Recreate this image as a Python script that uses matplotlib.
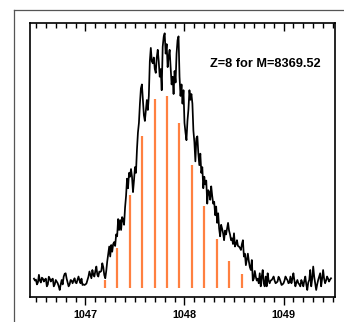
import numpy as np
import matplotlib
matplotlib.use('Agg')
from matplotlib import pyplot as plt
from matplotlib.ticker import MultipleLocator
from matplotlib.lines import Line2D

# measured spectrum, sampled every 0.01 m/z from 1046.48
mz_start = 1046.48
mz_step = 0.01
intensity = [
    5, 4, 4.5, 2, 3, 7, 4, 3, 5.5, 5,
    3.5, 4.5, 5, 1, 2, 6, 5, 3.5, 4.5, 5,
    1, 2, 4.3, 3.5, 2.6, 1, -0.9, 2, 4.3, 2,
    6, 7.5, 7.8, 5, 3, 1, 2, 4.3, 4, 2.6,
    4, 5.2, 3, 2.6, 4.5, 6.1, 4, 2.6, 5, 1.7,
    2, 1.7, 2, 2.5, 4.3, 6, 8.7, 7, 5.2, 9.5,
    7, 6.1, 9, 11.3, 7, 6.1, 8.7, 8.5, 9, 13,
    11, 6.9, 5.2, 9, 14, 18, 21.7, 16.5, 22.5, 19,
    23, 24, 22, 28, 27, 36, 30.3, 35.5, 30.3, 37,
    36, 33, 42, 48, 57, 52, 60, 58, 62, 58,
    50, 56, 63, 60, 72, 81, 86, 96, 104, 106,
    98, 90, 87, 92.7, 97.9, 92.7, 100, 118, 125, 118,
    117, 120, 114, 112, 120, 124, 118, 110, 114, 103,
    125.6, 130.8, 132.6, 122, 127, 115, 120.5, 124, 115, 106,
    110, 101, 113, 107, 122, 129, 131, 110, 100, 106,
    96, 103, 86, 81, 77, 87, 93, 103, 98, 101,
    96, 82, 76, 66, 78, 79, 70, 64, 70, 60,
    63, 52, 58, 54, 56, 44, 51, 50, 46, 53,
    48, 44, 45, 38, 42.5, 34, 39, 31, 27, 33,
    31, 28.6, 25, 30, 28, 31, 34, 30, 28, 25,
    26, 23, 28.6, 21.7, 23, 25, 22, 21.7, 21, 19.9,
    23, 25, 16.5, 18, 12, 15, 18, 14, 11, 9.5,
    14.7, 4, 5, 9, 6, 4, 5, 2.6, 7.8, 1,
    6, 9.5, 2.6, 1, 6.1, 1, 7.8, 4, 2.6, 4,
    4.3, 5, 6.1, 4, 2.6, 3, 3.5, 6, 5, 3.5,
    1.7, 2, 2.6, 4, 6.1, 5, 4.3, 2.6, 3, 6.1,
    2.6, 5, 7.8, 4, 1, 3, 4.3, 2.6, 2, 1,
    4.3, 3, 1, 4, 6.1, 2, -0.9, 3, 4.3, 9.5,
    1, 5, 11.3, 6, 2.6, -0.9, 2, 4.3, 6, 7.8,
    1, 5, 9.5, 5, 2.6, 4, 6.1, 5, 3.5, 4.5, 5.2,
]

# theoretical isotope pattern for charge 8
stick_mz = [1047.197, 1047.322, 1047.448, 1047.573, 1047.698, 1047.824,
            1047.949, 1048.074, 1048.200, 1048.325, 1048.450, 1048.576]
stick_int = [4.3, 20.8, 48.5, 79.2, 98.4, 100, 85.8, 64.3, 42.8, 25.5, 14.2, 7.5]

label = 'Z=8 for M=8369.52'

mz = np.round(mz_start + mz_step * np.arange(len(intensity)), 3)

plt.rcParams['font.family'] = ['Liberation Sans', 'DejaVu Sans']

fig = plt.figure(figsize=(3.44, 3.22), dpi=100)
# outer frame: only the top and left edges fall inside the image
x0, y0 = 13.5 / 344, 1 - 9.5 / 322
fig.lines.append(Line2D([x0, 1.0], [y0, y0], transform=fig.transFigure,
                        color='#555555', linewidth=0.9))
fig.lines.append(Line2D([x0, x0], [0.0, y0], transform=fig.transFigure,
                        color='#555555', linewidth=0.9))

ax = fig.add_axes([30 / 344, 1 - 297.3 / 322, 305 / 344, 274.6 / 322])
ax.vlines(stick_mz, 0, stick_int, color='#FF8040', linewidth=1.6, zorder=1)
ax.plot(mz, intensity, color='black', linewidth=1.25, zorder=2)

ax.set_xlim(1046.44, 1049.52)
ax.set_ylim(-4.7, 138.1)
ax.xaxis.set_major_locator(MultipleLocator(1))
ax.xaxis.set_minor_locator(MultipleLocator(0.1))
ax.set_yticks([])
ax.tick_params(axis='x', which='both', top=True, bottom=True, direction='out',
               width=1.0, labelsize=7.8, pad=3.5)
ax.tick_params(axis='x', which='major', length=6)
ax.tick_params(axis='x', which='minor', length=3.5)
for lbl in ax.get_xticklabels():
    lbl.set_fontweight('bold')

# top ticks point into the plot
for t in ax.xaxis.get_major_ticks() + ax.xaxis.get_minor_ticks():
    t.tick2line.set_marker(3)

for s in ax.spines.values():
    s.set_linewidth(1.2)

ax.text(0.59, 0.85, label, transform=ax.transAxes, fontsize=9.2,
        fontweight='bold', ha='left', va='center')

fig.savefig('out.png', dpi=100)
